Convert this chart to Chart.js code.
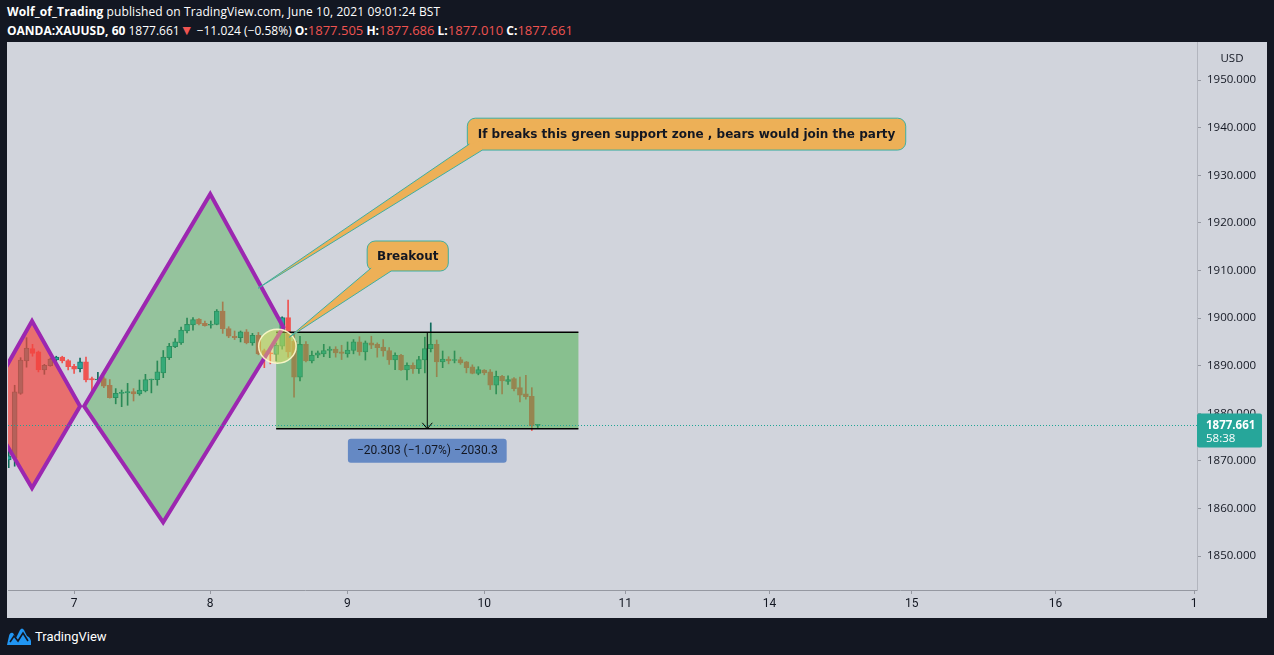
<!DOCTYPE html>
<html>
<head>
<meta charset="utf-8">
<script src="https://cdn.jsdelivr.net/npm/chart.js@4.4.0/dist/chart.umd.min.js"></script>
<style>
  html, body { margin: 0; padding: 0; width: 1274px; height: 655px; overflow: hidden; background: #131722; font-family: "Open Sans", Roboto, sans-serif; }
  .hdr { position: absolute; left: 7px; color: #ffffff; font-size: 12px; white-space: nowrap; }
  #h1 { top: 3px; letter-spacing: 0.1px; }
  #h2 { top: 20px; }
  .r { color: #ef5350; font-size: 13px; }
  .tri { color: #ef5350; font-size: 14px; }
  #panel { position: absolute; left: 7px; top: 42px; width: 1260px; height: 576px; background: #d1d4dc; }
  #wrap { position: absolute; left: 8px; top: 42px; width: 1259px; height: 576px; }
  #logo { position: absolute; left: 7px; top: 627px; color: #ffffff; font-size: 13px; font-family: Roboto, sans-serif; display: flex; align-items: center; }
  #logo svg { margin-right: 4px; }
</style>
</head>
<body>
<div class="hdr" id="h1"><b>Wolf_of_Trading</b> published on TradingView.com, June 10, 2021 09:01:24 BST</div>
<div class="hdr" id="h2"><b>OANDA:XAUUSD, 60</b> 1877.661<span class="tri">▼</span> −11.024 (−0.58%) <b>O:</b><span class="r">1877.505</span> <b>H:</b><span class="r">1877.686</span> <b>L:</b><span class="r">1877.010</span> <b>C:</b><span class="r">1877.661</span></div>
<div id="panel"></div>
<div id="wrap"><canvas id="chart" width="1259" height="576"></canvas></div>
<div id="logo">
  <svg width="24" height="18" viewBox="0 0 24 18"><path d="M0 18 L2 9 Q3 5 6 6 L9 11 L13 3 Q15 0 17 3 L20 9 Q23 10 24 14 L24 18 Z" fill="#2196f3"/><path d="M3 15 L7 9 L11 14 L16 6 L21 14" stroke="#131722" stroke-width="1.6" fill="none"/></svg>
  <span>TradingView</span>
</div>
<script>
// hourly candles, x = candle number
const opens = [
  1870.2, 1870.6, 1884.2, 1891.0, 1893.6, 1892.9, 1889.1, 1890.0, 1891.2, 1891.8,
  1891.1, 1889.9, 1889.4, 1890.8, 1887.3, 1887.0, 1887.3, 1885.9, 1883.3, 1884.2,
  1884.3, 1884.6, 1884.1, 1884.7, 1887.0, 1887.1, 1888.5, 1891.7, 1894.0, 1894.8,
  1897.3, 1898.6, 1899.8, 1898.9, 1898.5, 1898.7, 1901.5, 1897.8, 1896.2, 1895.9,
  1897.1, 1894.8, 1896.4, 1893.2, 1892.7, 1892.4, 1894.1, 1900.1, 1895.2, 1887.6,
  1894.5, 1891.0, 1892.2, 1892.5, 1893.2, 1893.5, 1892.9, 1892.5, 1893.2, 1895.0,
  1892.9, 1894.8, 1894.5, 1893.9, 1893.2, 1891.2, 1892.2, 1889.1, 1890.1, 1889.4,
  1891.2, 1893.6, 1894.5, 1890.8, 1891.4, 1891.1, 1891.3, 1890.8, 1889.8, 1888.4,
  1889.1, 1888.7, 1885.9, 1887.8, 1886.7, 1887.3, 1885.4, 1884.1, 1883.6, 1877.505
];
const highs = [
  1872.4, 1885.9, 1891.7, 1895.9, 1894.5, 1893.1, 1890.3, 1891.6, 1892.0, 1892.0,
  1891.3, 1890.3, 1891.6, 1891.8, 1887.6, 1888.6, 1887.7, 1887.1, 1885.2, 1884.9,
  1886.3, 1885.2, 1887.0, 1888.2, 1887.2, 1891.0, 1893.2, 1894.7, 1895.7, 1898.1,
  1900.0, 1900.1, 1899.9, 1899.4, 1899.4, 1901.8, 1903.4, 1898.2, 1897.3, 1897.3,
  1897.6, 1896.8, 1897.0, 1893.5, 1893.7, 1894.8, 1900.3, 1903.8, 1896.9, 1896.2,
  1895.1, 1893.1, 1893.1, 1894.5, 1894.0, 1894.0, 1894.3, 1895.0, 1895.5, 1896.1,
  1895.2, 1896.2, 1894.8, 1895.5, 1893.8, 1892.7, 1892.4, 1890.6, 1890.6, 1892.0,
  1896.0, 1899.0, 1895.4, 1893.1, 1891.9, 1893.1, 1891.8, 1890.9, 1890.2, 1889.8,
  1889.2, 1889.2, 1888.9, 1888.0, 1887.9, 1887.5, 1887.6, 1888.0, 1885.4, 1877.686
];
const lows = [
  1868.6, 1868.9, 1884.0, 1889.7, 1892.0, 1888.7, 1888.2, 1889.9, 1891.0, 1890.6,
  1889.1, 1888.4, 1888.7, 1886.6, 1884.7, 1886.1, 1885.4, 1883.2, 1882.0, 1881.4,
  1881.7, 1882.6, 1883.8, 1884.5, 1884.3, 1885.9, 1887.5, 1891.3, 1893.8, 1894.5,
  1896.9, 1897.5, 1898.6, 1898.3, 1897.9, 1898.6, 1896.8, 1895.9, 1895.5, 1895.0,
  1894.6, 1894.3, 1892.3, 1889.6, 1890.4, 1891.0, 1893.5, 1891.8, 1883.4, 1886.8,
  1890.8, 1890.6, 1891.7, 1891.9, 1891.7, 1891.8, 1891.3, 1891.8, 1892.5, 1892.2,
  1891.2, 1893.6, 1891.8, 1892.0, 1890.3, 1889.2, 1889.0, 1887.0, 1888.4, 1888.4,
  1888.5, 1892.9, 1887.7, 1889.6, 1890.4, 1890.6, 1890.3, 1888.5, 1888.3, 1888.1,
  1888.1, 1885.0, 1884.1, 1884.1, 1886.1, 1884.7, 1882.4, 1883.0, 1876.4, 1877.010
];
const closes = [
  1871.1, 1884.5, 1891.2, 1893.7, 1892.6, 1889.1, 1890.1, 1891.4, 1891.8, 1891.0,
  1889.8, 1889.3, 1890.8, 1887.0, 1887.0, 1887.2, 1885.7, 1883.3, 1884.2, 1884.4,
  1884.6, 1884.1, 1884.9, 1887.1, 1887.2, 1888.7, 1891.8, 1894.1, 1895.0, 1897.5,
  1898.7, 1899.7, 1898.8, 1898.4, 1898.7, 1901.5, 1897.8, 1896.2, 1895.9, 1897.1,
  1894.8, 1896.4, 1892.5, 1891.6, 1892.5, 1894.3, 1900.1, 1892.9, 1887.6, 1894.5,
  1891.0, 1892.2, 1892.7, 1893.2, 1893.5, 1892.7, 1892.6, 1893.3, 1895.0, 1892.9,
  1894.8, 1894.3, 1893.8, 1893.1, 1891.2, 1892.2, 1889.1, 1890.1, 1889.4, 1891.3,
  1893.6, 1894.5, 1890.8, 1891.4, 1891.0, 1891.3, 1890.6, 1889.6, 1888.4, 1889.2,
  1888.5, 1885.9, 1887.8, 1886.8, 1887.1, 1885.2, 1883.8, 1883.5, 1877.4, 1877.661
];

// time axis: day labels placed at candle numbers
const dayTickPos = [11.0, 33.9, 56.95, 80.0, 103.7, 128.0, 151.9, 176.1, 199.4];
const dayTickLabels = ['7', '8', '9', '10', '11', '14', '15', '16', '1'];
const priceTicks = [1850, 1860, 1870, 1880, 1890, 1900, 1910, 1920, 1930, 1940, 1950];
const lastPrice = 1877.661;
const countdown = '58:38';

// drawings, in [candle, price]
const redDiamond = [[-4.16, 1881.5], [3.92, 1899.4], [12.0, 1881.5], [3.92, 1864.3]];
const greenDiamond = [[12.68, 1881.5], [33.9, 1926.05], [46.2, 1898.1], [25.98, 1857.1]];
const rangeFrom = [44.99, 1897.06];
const rangeTo = [95.84, 1876.757];
const rangeText = '−20.303 (−1.07%) −2030.3';
const circleCenter = [45.2, 1894.1];
const circleRadius = [3.15, 3.57];
const breakoutBox = [[60.3, 1916.2], [73.95, 1909.9]];
const breakoutTip = [47.2, 1896.0];
const breakoutText = 'Breakout';
const partyBox = [[77.15, 1942.0], [150.9, 1935.3]];
const partyTip = [41.97, 1906.3];
const partyText = 'If breaks this green support zone , bears would join the party';

const UP = '#26a69a', DOWN = '#ef5350';
const isUp = closes.map((c, i) => c >= opens[i]);
const bodies = opens.map((o, i) => ({ x: i, y: [o, closes[i]] }));
const wicks = lows.map((l, i) => ({ x: i, y: [l, highs[i]] }));

function roundRect(ctx, x, y, w, h, r) {
  ctx.beginPath();
  ctx.moveTo(x + r, y);
  ctx.arcTo(x + w, y, x + w, y + h, r);
  ctx.arcTo(x + w, y + h, x, y + h, r);
  ctx.arcTo(x, y + h, x, y, r);
  ctx.arcTo(x, y, x + w, y, r);
  ctx.closePath();
}

function drawCallout(ctx, xs, ys, box, tip, text, b1, b2) {
  const L = xs.getPixelForValue(box[0][0]), R = xs.getPixelForValue(box[1][0]);
  const T = ys.getPixelForValue(box[0][1]), B = ys.getPixelForValue(box[1][1]);
  const tx = xs.getPixelForValue(tip[0]), ty = ys.getPixelForValue(tip[1]);
  ctx.fillStyle = '#edb057';
  ctx.strokeStyle = '#3fae9f';
  ctx.lineWidth = 1;
  roundRect(ctx, L, T, R - L, B - T, 8);
  ctx.fill();
  ctx.stroke();
  const p1 = [L + b1[0], B + b1[1]], p2 = [L + b2[0], B + b2[1]];
  ctx.beginPath();
  ctx.moveTo(p1[0], p1[1]);
  ctx.lineTo(tx, ty);
  ctx.lineTo(p2[0], p2[1]);
  ctx.lineTo(p2[0], p1[1] - 3);
  ctx.closePath();
  ctx.fill();
  ctx.beginPath();
  ctx.moveTo(p1[0], p1[1]);
  ctx.lineTo(tx, ty);
  ctx.lineTo(p2[0], p2[1]);
  ctx.stroke();
  ctx.fillStyle = '#131722';
  ctx.font = 'bold 12px "DejaVu Sans"';
  ctx.textAlign = 'center';
  ctx.textBaseline = 'middle';
  ctx.fillText(text, (L + R) / 2, (T + B) / 2 + 1);
}

const drawings = {
  id: 'drawings',
  afterDatasetsDraw(chart) {
    const { ctx, chartArea: a, scales: { x, y } } = chart;
    const px = p => [x.getPixelForValue(p[0]), y.getPixelForValue(p[1])];
    ctx.save();
    ctx.beginPath();
    ctx.rect(a.left, a.top, a.right - a.left, a.bottom - a.top);
    ctx.clip();

    // range box
    const r0 = px(rangeFrom), r1 = px(rangeTo);
    ctx.fillStyle = 'rgba(76,175,80,0.55)';
    ctx.fillRect(r0[0], r0[1], r1[0] - r0[0], r1[1] - r0[1]);
    ctx.strokeStyle = '#000000';
    ctx.lineWidth = 1.5;
    ctx.beginPath();
    ctx.moveTo(r0[0], r0[1]); ctx.lineTo(r1[0], r0[1]);
    ctx.moveTo(r0[0], r1[1]); ctx.lineTo(r1[0], r1[1]);
    ctx.stroke();
    const cx = (r0[0] + r1[0]) / 2;
    ctx.lineWidth = 1;
    ctx.beginPath();
    ctx.moveTo(cx, r0[1]); ctx.lineTo(cx, r1[1]);
    ctx.moveTo(cx - 5, r1[1] - 6); ctx.lineTo(cx, r1[1]); ctx.lineTo(cx + 5, r1[1] - 6);
    ctx.stroke();

    // diamonds
    [[redDiamond, 'rgba(242,68,62,0.7)'], [greenDiamond, 'rgba(76,175,80,0.45)']].forEach(([pts, fill]) => {
      ctx.beginPath();
      pts.forEach((p, i) => { const q = px(p); i ? ctx.lineTo(q[0], q[1]) : ctx.moveTo(q[0], q[1]); });
      ctx.closePath();
      ctx.fillStyle = fill;
      ctx.fill();
      ctx.strokeStyle = '#9c27b0';
      ctx.lineWidth = 4;
      ctx.lineJoin = 'miter';
      ctx.stroke();
    });

    // circle
    const c = px(circleCenter);
    const rx = x.getPixelForValue(circleCenter[0] + circleRadius[0]) - c[0];
    const ry = c[1] - y.getPixelForValue(circleCenter[1] + circleRadius[1]);
    ctx.beginPath();
    ctx.ellipse(c[0], c[1], rx, ry, 0, 0, Math.PI * 2);
    ctx.fillStyle = 'rgba(255,238,88,0.4)';
    ctx.fill();
    ctx.strokeStyle = 'rgba(255,250,205,0.9)';
    ctx.lineWidth = 1.5;
    ctx.stroke();

    // last price line
    const ly = Math.round(y.getPixelForValue(lastPrice));
    ctx.strokeStyle = '#1fa595';
    ctx.lineWidth = 1;
    ctx.setLineDash([1, 2]);
    ctx.beginPath();
    ctx.moveTo(a.left, ly + 0.5); ctx.lineTo(a.right, ly + 0.5);
    ctx.stroke();
    ctx.setLineDash([]);

    // range label
    ctx.font = '12px Roboto';
    const tw = ctx.measureText(rangeText).width + 18;
    ctx.fillStyle = '#6589c4';
    roundRect(ctx, cx - tw / 2, r1[1] + 10, tw, 24, 3);
    ctx.fill();
    ctx.fillStyle = '#131722';
    ctx.textAlign = 'center';
    ctx.textBaseline = 'middle';
    ctx.fillText(rangeText, cx, r1[1] + 22.5);

    // callouts
    drawCallout(ctx, x, y, breakoutBox, breakoutTip, breakoutText, [4, -3], [24, 0]);
    drawCallout(ctx, x, y, partyBox, partyTip, partyText, [2, -6], [15, 0]);
    ctx.restore();
  },
  afterDraw(chart) {
    const { ctx, chartArea: a, scales: { y } } = chart;
    ctx.save();
    ctx.fillStyle = '#131722';
    ctx.font = '11.5px "Open Sans"';
    ctx.textAlign = 'center';
    ctx.textBaseline = 'middle';
    ctx.fillText('USD', a.right + 35, a.top + 17);
    const ly = y.getPixelForValue(lastPrice);
    ctx.fillStyle = '#26a69a';
    roundRect(ctx, a.right, ly - 11, 65, 34, 2);
    ctx.fill();
    ctx.fillStyle = '#ffffff';
    ctx.textAlign = 'left';
    ctx.font = 'bold 11.5px "Open Sans"';
    ctx.fillText(lastPrice.toFixed(3), a.right + 9, ly + 1);
    ctx.font = '11.5px "Open Sans"';
    ctx.fillText(countdown, a.right + 9, ly + 14);
    ctx.restore();
  }
};

new Chart(document.getElementById('chart'), {
  type: 'bar',
  data: {
    datasets: [
      {
        data: bodies,
        backgroundColor: isUp.map(u => u ? UP : DOWN),
        borderColor: isUp.map(u => u ? '#14796c' : DOWN),
        borderWidth: 1,
        borderSkipped: false,
        barThickness: 5,
        minBarLength: 1,
        grouped: false
      },
      {
        data: wicks,
        backgroundColor: isUp.map(u => u ? '#0f6b5c' : DOWN),
        borderWidth: 0,
        barThickness: 1,
        grouped: false
      }
    ]
  },
  options: {
    responsive: false,
    animation: false,
    events: [],
    layout: { padding: 0 },
    plugins: { legend: { display: false }, tooltip: { enabled: false } },
    scales: {
      x: {
        type: 'linear',
        offset: false,
        min: -0.12,
        max: 199.9,
        afterBuildTicks: s => { s.ticks = dayTickPos.map(v => ({ value: v })); },
        afterFit: s => { s.height = 28; s.paddingLeft = 0; s.paddingRight = 0; },
        grid: { drawOnChartArea: false, drawTicks: true, tickLength: 4, color: '#9598a1', offset: false },
        border: { color: '#9598a1' },
        ticks: {
          autoSkip: false,
          maxRotation: 0,
          padding: 3,
          color: '#131722',
          font: { family: 'Roboto', size: 12 },
          callback: v => dayTickLabels[dayTickPos.indexOf(v)]
        }
      },
      y: {
        position: 'right',
        beginAtZero: false,
        min: 1842.9,
        max: 1958.0,
        afterBuildTicks: s => { s.ticks = priceTicks.map(v => ({ value: v })); },
        afterFit: s => { s.width = 70; s.paddingTop = 0; s.paddingBottom = 0; },
        grid: { drawOnChartArea: false, drawTicks: true, tickLength: 4, color: '#9598a1' },
        border: { color: '#b2b5be' },
        ticks: {
          padding: 6,
          color: '#131722',
          font: { family: 'Open Sans', size: 11.5 },
          callback: v => v.toFixed(3)
        }
      }
    }
  },
  plugins: [drawings]
});
</script>
</body>
</html>
